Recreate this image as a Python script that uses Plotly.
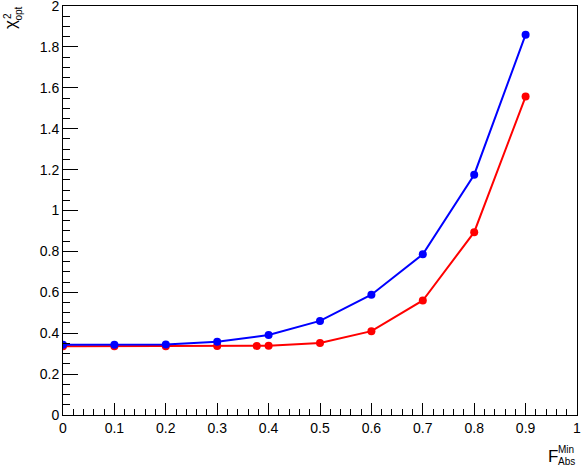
import plotly.graph_objects as go

# Data
x_red = [0.0, 0.1, 0.2, 0.3, 0.377, 0.4, 0.5, 0.6, 0.7, 0.8, 0.9]
y_red = [0.336, 0.336, 0.336, 0.337, 0.338, 0.339, 0.352, 0.410, 0.560, 0.894, 1.557]

x_blue = [0.0, 0.1, 0.2, 0.3, 0.4, 0.5, 0.6, 0.7, 0.8, 0.9]
y_blue = [0.344, 0.344, 0.345, 0.358, 0.391, 0.460, 0.588, 0.786, 1.175, 1.860]

FONT = "Liberation Sans"
W, H = 581, 467
M = dict(l=63, r=4, t=6, b=52, autoexpand=False)
PW = W - M["l"] - M["r"]
PH = H - M["t"] - M["b"]


def px(x, y):
    """Pixel position -> paper coordinates."""
    return (x - M["l"]) / PW, (H - M["b"] - y) / PH


fig = go.Figure()

fig.add_trace(go.Scatter(
    x=x_red, y=y_red, mode="lines+markers",
    line=dict(color="#ff0000", width=2),
    marker=dict(color="#ff0000", size=8),
    showlegend=False
))
fig.add_trace(go.Scatter(
    x=x_blue, y=y_blue, mode="lines+markers",
    line=dict(color="#0000ff", width=2),
    marker=dict(color="#0000ff", size=8),
    showlegend=False
))

axis_common = dict(
    showgrid=False, zeroline=False,
    showline=True, linecolor="black", linewidth=1, mirror=True,
    ticks="inside", tickcolor="black", tickwidth=1,
    ticklabeloverflow="allow",
    tickfont=dict(family=FONT, size=14, color="black"),
)

# tiny overshoot so the end labels ("1", "2") are kept
fig.update_xaxes(
    range=[0, 1.000001], dtick=0.1, tick0=0, ticklen=12,
    minor=dict(dtick=0.02, ticklen=6, ticks="inside", tickcolor="black", showgrid=False),
    **axis_common
)
fig.update_yaxes(
    range=[0, 2.000001], dtick=0.2, tick0=0, ticklen=15,
    minor=dict(dtick=0.05, ticklen=7, ticks="inside", tickcolor="black", showgrid=False),
    **axis_common
)

# Axis titles, stacked super/subscripts as ROOT draws them
# (text, x px, y px, font size, angle, xanchor)
labels = [
    ("F", 557.5, 456, 17, 0, "right"),
    ("Min", 558, 450, 10, 0, "left"),
    ("Abs", 558, 461, 10, 0, "left"),
    ("χ", 10, 25, 17, -90, "center"),
    ("2", 7, 16, 10, -90, "center"),
    ("opt", 18, 13.5, 10, -90, "center"),
]
for text, lx, ly, size, angle, xanchor in labels:
    ax, ay = px(lx, ly)
    fig.add_annotation(
        text=text, xref="paper", yref="paper", x=ax, y=ay,
        xanchor=xanchor, yanchor="middle", showarrow=False,
        textangle=angle, borderpad=0, borderwidth=0,
        font=dict(family=FONT, size=size, color="black")
    )

fig.update_layout(
    width=W, height=H, margin=M,
    paper_bgcolor="white", plot_bgcolor="white",
    font=dict(family=FONT, size=14, color="black"),
)

# the page body has a default 8px margin; drop it so the figure fills the window
fig.write_html(
    "out.html",
    config={"displayModeBar": False},
    post_script="document.body.style.margin='0';",
)
